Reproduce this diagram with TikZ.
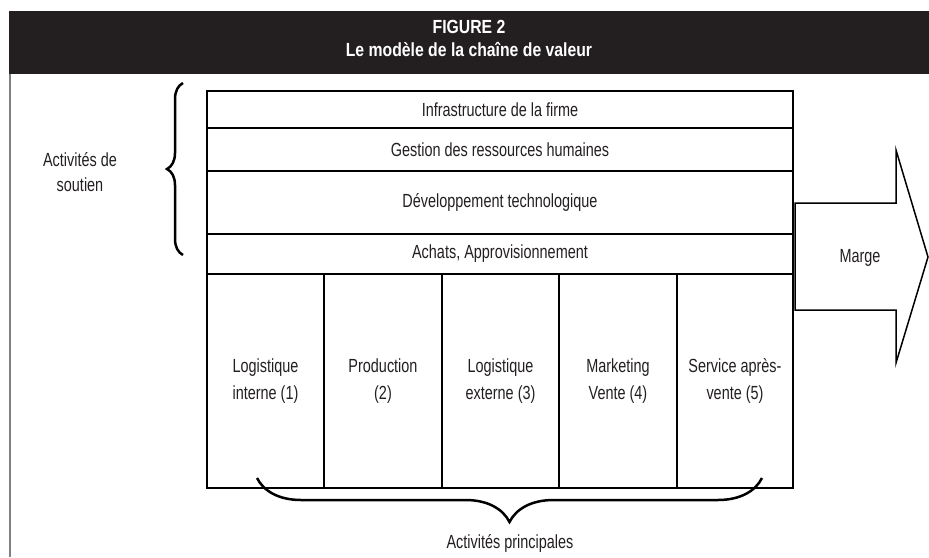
\documentclass[tikz,border=0pt]{standalone}
\usepackage{fontspec}
\setmainfont[FakeStretch=0.76]{Liberation Sans}
\newfontfamily\hdrfont[FakeStretch=0.83]{Liberation Sans}
\usetikzlibrary{decorations.pathreplacing}
\definecolor{ink}{HTML}{231F20}
\begin{document}
\begin{tikzpicture}[x=1pt,y=-1pt]
\tikzstyle{every node}+=[inner sep=0pt, outer sep=0pt, text=ink, font=\fontsize{19}{27}\selectfont]
\tikzstyle{row}=[draw=black, line width=2pt, minimum width=586pt]
\tikzstyle{col}=[draw=black, line width=2pt, minimum height=214pt, align=center]
\tikzstyle{accolade}=[draw=black, line width=2.5pt, decorate]
\useasboundingbox (0,0) rectangle (929,557);
% bandeau du titre
\fill [ink] (9,11) rectangle (929,74);
\draw [gray, line width=1.5pt] (9.75,74) -- (9.75,557);
\node [text=white, font=\hdrfont\bfseries\fontsize{19}{23}\selectfont] (titre1) at (469,27) {FIGURE 2};
\node [text=white, font=\hdrfont\bfseries\fontsize{19}{23}\selectfont] (titre2) at (469,49) {Le modèle de la chaîne de valeur};
% activites de soutien
\node [row, minimum height=37pt] (infra) at (500,109.5) {Infrastructure de la firme};
\node [row, minimum height=43pt] (grh) at (500,149.5) {Gestion des ressources humaines};
\node [row, minimum height=63pt] (techno) at (500,202.5) {Développement technologique};
\node [row, minimum height=40pt] (achats) at (500,254) {Achats, Approvisionnement};
% activites principales
\node [col, minimum width=117pt] (log1) at (265.5,381) {Logistique\\interne (1)};
\node [col, minimum width=118pt] (prod) at (383,381) {Production\\(2)};
\node [col, minimum width=117pt] (log3) at (500.5,381) {Logistique\\externe (3)};
\node [col, minimum width=118pt] (mkt) at (618,381) {Marketing\\Vente (4)};
\node [col, minimum width=116pt] (sav) at (735,381) {Service après-\\vente (5)};
% marge
\draw [black, line width=1.5pt] (795,203) -- (896,203) -- (896,150) -- (928,257) -- (896,363) -- (896,310) -- (795,310) -- cycle;
\node (marge) at (860,258) {Marge};
% accolades
\coordinate (s1) at (183,255);
\coordinate (s2) at (183,83);
\draw [accolade, decoration={brace, amplitude=16pt}] (s1) -- (s2);
\node [align=center, font=\fontsize{19}{25}\selectfont] (soutien) at (80,172) {Activités de\\soutien};
\coordinate (p1) at (762,478);
\coordinate (p2) at (257,478);
\draw [accolade, decoration={brace, amplitude=44pt}] (p1) -- (p2);
\node (principales) at (510,543) {Activités principales};
\end{tikzpicture}
\end{document}
